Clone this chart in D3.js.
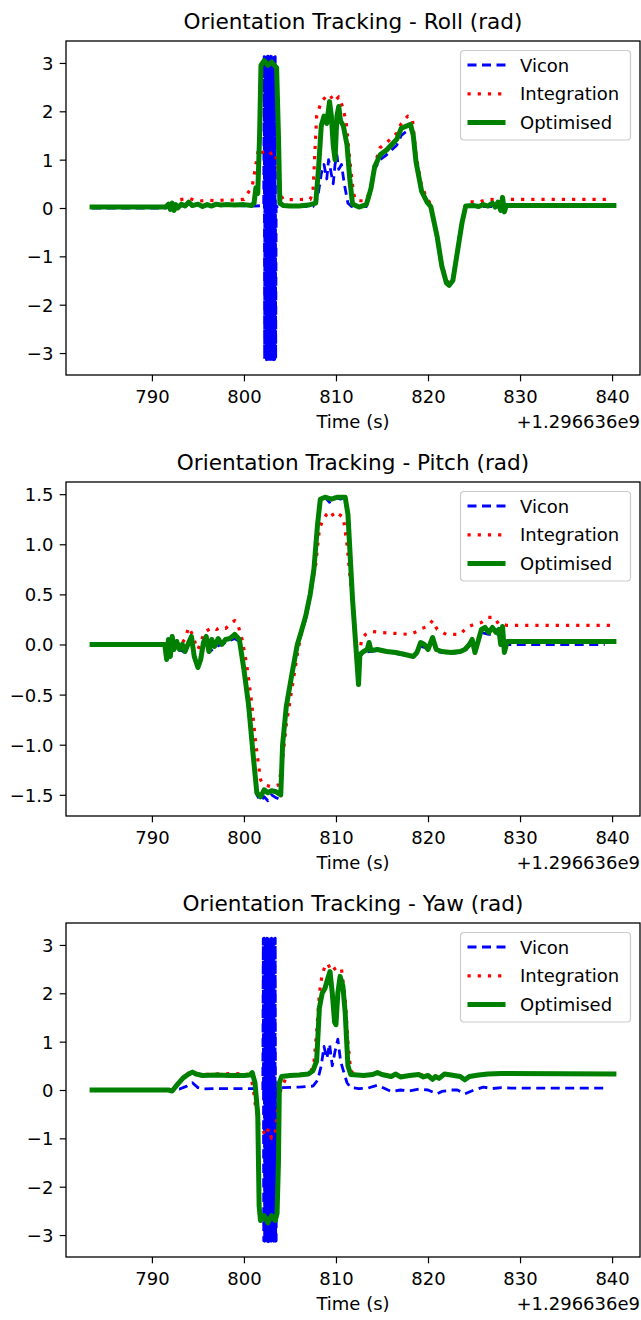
<!DOCTYPE html>
<html>
<head>
<meta charset="utf-8">
<script src="https://cdnjs.cloudflare.com/ajax/libs/d3/7.8.5/d3.min.js"></script>
<style>
  body { margin: 0; background: #fff; }
  text { font-family: 'DejaVu Sans', sans-serif; fill: #000; }
</style>
</head>
<body>
<div id="chart"></div>
<script>

// ---------------- data (time offset from 1.296636e9 s, angle in rad) ----------------
var titles = ["Orientation Tracking - Roll (rad)", "Orientation Tracking - Pitch (rad)", "Orientation Tracking - Yaw (rad)"];
var seriesNames = ["Vicon", "Integration", "Optimised"];
var xTicks = [790, 800, 810, 820, 830, 840];
var rollTicks = [-3, -2, -1, 0, 1, 2, 3];
var pitchTicks = [-1.5, -1.0, -0.5, 0.0, 0.5, 1.0, 1.5];
var yawTicks = [-3, -2, -1, 0, 1, 2, 3];

var rollVicon = [[783.5,0.0],[791.5,0.0],[792,0.05],[793,0.04],[795,0.06],[797,0.05],[799,0.05],[801,0.04],[802.15,0.05],
  [802.20,3.13],[802.25,-3.12],[802.30,3.14],[802.35,-3.13],[802.40,3.12],[802.45,-3.14],[802.50,3.13],[802.55,-3.12],
  [802.60,3.14],[802.65,-3.13],[802.70,3.13],[802.75,-3.14],[802.80,3.12],[802.85,-3.13],[802.90,3.14],[802.95,-3.12],
  [803.00,3.13],[803.05,-3.13],[803.10,3.14],[803.15,-3.12],[803.20,3.13],[803.25,-3.14],[803.30,3.12],[803.35,-3.13],
  [803.40,3.13],[803.45,-3.12],
  [803.50,0.03],[807.5,0.03],[808,0.2],[808.4,0.7],[808.7,0.9],[809.0,0.6],[809.2,1.0],[809.5,0.7],[809.7,0.5],[809.9,0.9],
  [810.1,1.1],[810.3,0.8],[810.6,0.9],[810.9,0.5],[811.3,0.1],[811.7,0.03],[813.3,0.03],[813.8,0.35],[814.2,0.8],[814.8,1.0],
  [815.5,1.1],[816.6,1.3],[817.1,1.5],[818.1,1.65],[818.4,1.5],[818.7,0.95],[819.3,0.35],[819.9,0.1],[820.3,0.02],[821,-0.6],
  [821.5,-1.2],[822,-1.5],[822.3,-1.58],[822.7,-1.5],[823.2,-0.9],[823.7,-0.3],[824.1,0.03],[828.5,0.03],[839.2,0.03]];

var rollIntegration = [[783.5,0.02],[792.5,0.03],[793.0,0.17],[794,0.2],[795,0.14],[796,0.16],[797,0.15],[798,0.17],[799,0.16],
  [800,0.18],[800.9,0.45],[801.3,0.9],[801.7,1.35],[802.0,1.15],[802.5,1.2],[803.0,1.12],[803.4,1.15],[803.7,0.8],[803.9,0.3],
  [804.3,0.17],[807.2,0.18],[807.5,0.32],[807.9,1.9],[808.4,2.2],[808.9,2.3],[809.3,2.35],[809.8,2.2],[810.3,2.3],[810.7,2.1],
  [811.1,1.8],[811.5,1.0],[811.9,0.3],[812.2,0.15],[813.3,0.15],[813.8,0.45],[814.2,0.9],[814.8,1.25],[815.5,1.35],[816.6,1.55],
  [817.1,1.75],[817.8,1.9],[818.3,1.85],[818.7,1.1],[819.3,0.45],[819.9,0.2],[820.3,0.08],[821,-0.55],[821.5,-1.15],[822,-1.5],
  [822.3,-1.55],[822.7,-1.45],[823.2,-0.85],[823.7,-0.25],[824.1,0.1],[824.5,0.13],[825.5,0.12],[826.5,0.18],[827.5,0.17],
  [828.5,0.18],[839.8,0.18]];

var rollOptimised = [[783.5,0.02],[791.5,0.02],[791.8,0.08],[792.0,-0.03],[792.2,0.1],[792.4,-0.05],[792.6,0.07],[792.8,0.0],
  [793.2,0.08],[793.6,0.04],[794.0,0.12],[794.4,0.05],[795,0.08],[795.5,0.03],[796,0.07],[796.5,0.04],[797,0.08],[797.5,0.06],
  [798,0.07],[799,0.06],[800,0.07],[800.8,0.05],[801.1,0.1],[801.3,0.42],[801.5,0.3],[801.7,1.5],[801.85,2.95],[802.2,3.05],
  [802.6,2.95],[803.0,3.02],[803.3,2.95],[803.55,2.9],[803.75,1.5],[803.9,0.1],[804.3,0.05],[805,0.04],[806,0.04],[807,0.06],
  [807.8,0.1],[808.1,0.8],[808.4,1.7],[808.7,1.9],[809.0,1.75],[809.3,2.2],[809.5,1.9],[809.7,1.3],[809.9,1.0],[810.1,1.9],
  [810.3,2.1],[810.5,1.8],[810.8,1.7],[811.2,1.3],[811.5,0.6],[811.8,0.08],[812.5,0.02],[813.3,0.07],[813.8,0.4],[814.2,0.85],
  [814.8,1.1],[815.5,1.2],[816.6,1.42],[817.1,1.65],[818.1,1.73],[818.4,1.5],[818.7,0.95],[819.3,0.35],[819.9,0.12],[820.3,0.03],
  [821.0,-0.6],[821.5,-1.2],[822.0,-1.55],[822.3,-1.6],[822.7,-1.5],[823.2,-0.9],[823.7,-0.3],[824.1,0.04],[825,0.05],
  [825.5,0.03],[826,0.07],[826.5,0.04],[827,0.1],[827.3,0.02],[827.6,0.12],[827.9,-0.05],[828.1,0.22],[828.3,-0.08],
  [828.5,0.05],[840.2,0.05]];

var pitchVicon = [[783.5,-0.01],[791.4,-0.01],[791.6,-0.12],[791.8,0.04],[792.0,-0.1],[792.2,0.06],[792.5,-0.04],[793,-0.05],
  [793.6,-0.08],[794.3,0.05],[794.6,-0.12],[795,-0.22],[795.3,-0.15],[795.6,0.0],[795.9,0.05],[796.2,-0.08],[796.8,-0.03],
  [797.5,0.0],[798.5,0.04],[799,0.06],[799.5,0.03],[800,-0.27],[800.5,-0.65],[801,-1.15],[801.4,-1.5],[801.8,-1.56],
  [802.2,-1.52],[802.6,-1.56],[803,-1.5],[803.5,-1.53],[804,-1.55],[804.2,-1.05],[804.6,-0.65],[805.2,-0.33],[805.8,-0.03],
  [806.2,0.1],[806.7,0.25],[807.2,0.48],[807.6,0.72],[808,1.18],[808.3,1.44],[808.8,1.47],[809.3,1.42],[809.8,1.47],
  [810.5,1.45],[811,1.46],[811.3,1.3],[811.8,0.45],[812.3,-0.2],[812.45,-0.38],[812.6,-0.12],[813,-0.08],[814.5,-0.06],
  [816.5,-0.09],[818.4,-0.12],[819.2,-0.02],[819.6,-0.03],[820.5,0.04],[820.9,-0.07],[822.5,-0.09],[824,-0.07],[824.8,0.03],
  [825.1,-0.08],[825.8,0.12],[826.6,0.1],[827.4,0.1],[828.1,0.12],[828.6,0.0],[839.2,0.0]];

var pitchIntegration = [[783.5,0],[793.2,0.0],[793.6,0.06],[794.0,0.17],[794.4,0.1],[794.7,0.02],[795.0,-0.05],[795.3,0.02],
  [795.7,0.12],[796.2,0.15],[796.6,0.17],[797.0,0.15],[797.5,0.17],[798.0,0.16],[798.5,0.2],[799.0,0.24],[799.4,0.18],
  [799.8,0.05],[800.3,-0.2],[800.8,-0.55],[801.3,-1.0],[801.8,-1.35],[802.2,-1.4],[803.0,-1.42],[803.8,-1.4],[804.2,-1.15],
  [804.6,-0.8],[805.2,-0.45],[805.8,-0.1],[806.3,0.15],[806.8,0.3],[807.3,0.55],[807.8,0.8],[808.2,1.15],[808.6,1.25],
  [809.0,1.3],[809.4,1.33],[809.8,1.27],[810.3,1.3],[810.8,1.27],[811.2,1.0],[811.8,0.4],[812.2,0.0],[812.5,-0.1],[812.8,0.05],
  [813.2,0.1],[813.8,0.13],[815,0.12],[816.5,0.11],[818,0.1],[818.8,0.13],[819.3,0.16],[820,0.18],[820.5,0.24],[821,0.15],
  [822,0.1],[823.5,0.1],[824.2,0.17],[825,0.2],[825.8,0.22],[826.5,0.27],[827.2,0.27],[827.7,0.2],[828.2,0.2],[828.6,0.19],
  [839.8,0.19]];

var pitchOptimised = [[783.5,0],[791.4,0],[791.6,-0.15],[791.8,0.05],[792.0,-0.12],[792.2,0.08],[792.4,-0.05],[792.7,0.03],
  [793.0,-0.05],[793.3,0.0],[793.6,-0.07],[794.0,0.02],[794.3,0.08],[794.6,-0.12],[795.0,-0.23],[795.3,-0.15],[795.6,0.02],
  [795.9,0.08],[796.2,-0.07],[796.5,0.05],[796.8,-0.02],[797.2,0.06],[797.6,0.0],[798.0,0.05],[798.5,0.06],[799.0,0.1],
  [799.5,0.05],[800.0,-0.25],[800.5,-0.6],[801.0,-1.1],[801.4,-1.48],[801.8,-1.52],[802.2,-1.45],[802.6,-1.48],[803.0,-1.46],
  [803.5,-1.47],[804.0,-1.5],[804.2,-1.0],[804.6,-0.62],[805.2,-0.3],[805.8,0.0],[806.2,0.12],[806.7,0.28],[807.2,0.5],
  [807.6,0.75],[808.0,1.2],[808.3,1.45],[808.8,1.47],[809.5,1.45],[810.2,1.47],[811.0,1.47],[811.3,1.3],[811.8,0.45],
  [812.3,-0.2],[812.45,-0.4],[812.6,-0.1],[813.0,-0.07],[813.4,-0.05],[813.6,0.02],[813.8,-0.06],[814.5,-0.05],[815.5,-0.07],
  [816.5,-0.08],[817.5,-0.1],[818.4,-0.12],[818.8,-0.08],[819.2,0.02],[819.6,0.0],[820.0,-0.05],[820.5,0.07],[820.9,-0.05],
  [821.5,-0.07],[822.5,-0.08],[823.5,-0.07],[824.0,-0.05],[824.5,0.0],[824.8,0.05],[825.1,-0.08],[825.5,0.05],[825.8,0.15],
  [826.2,0.17],[826.6,0.12],[827.0,0.17],[827.4,0.12],[827.7,0.15],[827.9,0.0],[828.1,0.18],[828.3,-0.08],[828.6,0.03],
  [840.2,0.03]];

var yawVicon = [[783.5,0.0],[792.3,0.0],[793,0.02],[793.8,0.08],[794.4,0.15],[795,0.05],[795.5,0.02],[797,0.03],[799,0.03],
  [801,0.03],[801.5,0.0],[802.05,0.0],
  [802.10,3.13],[802.15,-3.12],[802.20,3.14],[802.25,-3.13],[802.30,3.12],[802.35,-3.14],[802.40,3.13],[802.45,-3.12],
  [802.50,3.14],[802.55,-3.13],[802.60,3.13],[802.65,-3.14],[802.70,3.12],[802.75,-3.13],[802.80,3.14],[802.85,-3.12],
  [802.90,3.13],[802.95,-3.13],[803.00,3.14],[803.05,-3.12],[803.10,3.13],[803.15,-3.14],[803.20,3.12],[803.25,-3.13],
  [803.30,3.13],[803.35,-3.12],[803.40,3.14],[803.45,-3.13],[803.50,-3.12],
  [803.55,0.03],[804,0.05],[806,0.06],[807.5,0.08],[808.0,0.2],[808.4,0.5],[808.7,0.9],[809.0,0.65],[809.3,0.95],[809.6,0.5],
  [809.9,0.8],[810.2,1.05],[810.5,0.6],[810.8,0.4],[811.2,0.15],[811.6,0.05],[812.5,0.03],[813.5,0.04],[814.5,0.1],[815.3,0.03],
  [816,-0.03],[817,0.0],[818,-0.02],[819,0.02],[820,0.0],[821,-0.08],[821.5,-0.03],[822.5,0.0],[823.2,0.0],[824,-0.08],
  [825,0.0],[826,0.06],[827,0.03],[828,0.05],[829,0.04],[839.2,0.04]];

var yawIntegration = [[783.5,0.0],[791.8,0.0],[792.2,-0.02],[792.8,0.12],[793.4,0.27],[794.0,0.35],[794.4,0.37],[794.8,0.33],
  [795.5,0.32],[797,0.33],[799,0.34],[800.3,0.33],[800.8,0.25],[801.1,-0.1],[801.3,-0.4],[801.6,-0.7],[802.0,-0.8],
  [802.3,-0.95],[802.7,-0.8],[803.0,-1.0],[803.4,-0.9],[803.7,-0.3],[804.0,0.0],[804.5,0.22],[805,0.3],[806.5,0.33],
  [807.3,0.4],[807.6,0.55],[807.9,1.2],[808.2,2.0],[808.5,2.4],[808.8,2.55],[809.1,2.62],[809.5,2.45],[809.8,2.5],[810.2,2.55],
  [810.6,2.5],[811.0,1.9],[811.3,1.0],[811.6,0.4],[812,0.32],[813,0.31],[814,0.33],[814.5,0.36],[815,0.33],[816,0.29],
  [817,0.28],[818,0.31],[819,0.32],[820,0.3],[820.5,0.23],[821.2,0.25],[821.8,0.33],[823.5,0.29],[824,0.22],[824.5,0.29],
  [826,0.32],[827,0.34],[828,0.33],[839.8,0.33]];

var yawOptimised = [[783.5,0.0],[791.8,0.0],[792.2,-0.02],[792.8,0.12],[793.4,0.25],[794.0,0.33],[794.4,0.37],[794.8,0.33],
  [795.5,0.3],[797,0.31],[798.5,0.3],[800,0.3],[800.6,0.31],[800.9,0.36],[801.2,0.15],[801.5,-0.5],[801.65,-2.4],[801.8,-2.7],
  [802.2,-2.6],[802.6,-2.75],[803.0,-2.6],[803.4,-2.7],[803.6,-2.55],[803.75,-1.5],[803.85,0.15],[804.1,0.28],[805,0.3],
  [806,0.31],[807,0.33],[807.5,0.4],[807.9,0.6],[808.2,1.7],[808.5,2.0],[808.8,2.1],[809.1,2.3],[809.35,2.45],[809.6,2.0],
  [809.85,1.4],[810.0,1.35],[810.2,2.0],[810.45,2.35],[810.75,2.15],[811.0,1.6],[811.3,0.5],[811.6,0.32],[813,0.3],[814,0.32],
  [814.5,0.36],[815,0.32],[816,0.28],[816.5,0.33],[817,0.27],[818,0.3],[819,0.32],[819.5,0.27],[820,0.3],[820.5,0.22],
  [820.8,0.28],[821.2,0.24],[821.8,0.33],[822.5,0.31],[823.5,0.28],[824,0.21],[824.5,0.28],[825.5,0.31],[826.5,0.33],
  [828,0.34],[840.2,0.33]];

// ---------------- layout ----------------
var width = 641, height = 1320;
var plotLeft = 66, plotRight = 640;
var panelTop = 41, panelStep = 441, panelH = 334;

var styles = [
  {color: "blue", width: 2.8, dash: "9,5.5", cap: "butt"},
  {color: "red", width: 3.2, dash: "3.2,7", cap: "butt"},
  {color: "green", width: 5, dash: null, cap: "square"}
];

var panels = [
  {title: titles[0], series: [rollVicon, rollIntegration, rollOptimised], ticks: rollTicks, fmt: d3.format("d")},
  {title: titles[1], series: [pitchVicon, pitchIntegration, pitchOptimised], ticks: pitchTicks, fmt: d3.format(".1f")},
  {title: titles[2], series: [yawVicon, yawIntegration, yawOptimised], ticks: yawTicks, fmt: d3.format("d")}
];

var svg = d3.select("#chart").append("svg")
  .attr("width", width)
  .attr("height", height);

// matplotlib style 5% margins
function padded(ext) {
  var m = (ext[1] - ext[0]) * 0.05;
  return [ext[0] - m, ext[1] + m];
}

panels.forEach(function(p, i) {
  var top = panelTop + i * panelStep;
  var w = plotRight - plotLeft;
  var all = d3.merge(p.series);

  var x = d3.scaleLinear().domain(padded(d3.extent(all, function(d) { return d[0]; }))).range([0, w]);
  var y = d3.scaleLinear().domain(padded(d3.extent(all, function(d) { return d[1]; }))).range([panelH, 0]);

  var g = svg.append("g").attr("transform", "translate(" + plotLeft + "," + top + ")");

  g.append("clipPath").attr("id", "clip" + i)
    .append("rect").attr("width", w).attr("height", panelH);

  var line = d3.line()
    .x(function(d) { return x(d[0]); })
    .y(function(d) { return y(d[1]); });

  var lines = g.append("g").attr("clip-path", "url(#clip" + i + ")");
  p.series.forEach(function(s, k) {
    lines.append("path")
      .datum(s)
      .attr("d", line)
      .attr("fill", "none")
      .attr("stroke", styles[k].color)
      .attr("stroke-width", styles[k].width)
      .attr("stroke-dasharray", styles[k].dash)
      .attr("stroke-linecap", styles[k].cap)
      .attr("stroke-linejoin", "round");
  });

  // axes
  var xAxis = g.append("g").attr("transform", "translate(0," + panelH + ")")
    .call(d3.axisBottom(x).tickValues(xTicks).tickFormat(d3.format("d")).tickSize(6.3).tickPadding(9.2));
  var yAxis = g.append("g")
    .call(d3.axisLeft(y).tickValues(p.ticks).tickFormat(p.fmt).tickSize(6.3).tickPadding(6.3));
  [xAxis, yAxis].forEach(function(a) {
    a.select(".domain").remove();
    a.selectAll("line").attr("stroke", "#000").attr("stroke-width", 1.2);
    a.selectAll("text").attr("font-size", 18).attr("font-family", "DejaVu Sans").attr("fill", "#000");
  });
  yAxis.selectAll("text").attr("dy", "0.36em");

  // frame
  g.append("rect")
    .attr("width", w).attr("height", panelH)
    .attr("fill", "none").attr("stroke", "#000").attr("stroke-width", 1.3);

  // title and labels
  g.append("text").attr("x", w / 2).attr("y", -12)
    .attr("text-anchor", "middle").attr("font-size", 21.6).text(p.title);
  g.append("text").attr("x", w / 2).attr("y", panelH + 53)
    .attr("text-anchor", "middle").attr("font-size", 18).text("Time (s)");
  g.append("text").attr("x", w).attr("y", panelH + 53)
    .attr("text-anchor", "end").attr("font-size", 18).text("+1.296636e9");

  // legend
  var lg = g.append("g").attr("transform", "translate(" + (w - 179.5) + ",9.5)");
  lg.append("rect")
    .attr("width", 170).attr("height", 89.5).attr("rx", 3.5)
    .attr("fill", "#fff").attr("fill-opacity", 0.8)
    .attr("stroke", "#cccccc").attr("stroke-width", 1.2);
  seriesNames.forEach(function(name, k) {
    var ly = 14.5 + k * 28.8;
    lg.append("line")
      .attr("x1", 7).attr("x2", 45).attr("y1", ly).attr("y2", ly)
      .attr("stroke", styles[k].color)
      .attr("stroke-width", styles[k].width)
      .attr("stroke-dasharray", styles[k].dash)
      .attr("stroke-linecap", styles[k].cap === "square" ? "butt" : styles[k].cap);
    lg.append("text").attr("x", 59.5).attr("y", ly + 6.5)
      .attr("font-size", 18).text(name);
  });
});

</script>
</body>
</html>
